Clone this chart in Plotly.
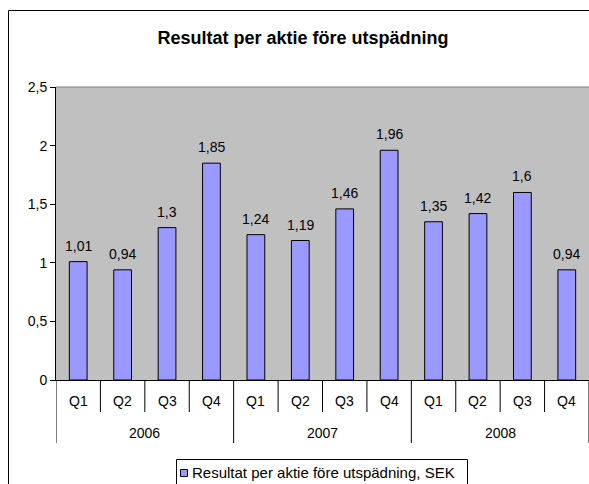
import plotly.graph_objects as go

# ---- data ----
years = ["2006", "2007", "2008"]
quarters = ["Q1", "Q2", "Q3", "Q4"]
values = [1.01, 0.94, 1.30, 1.85, 1.24, 1.19, 1.46, 1.96, 1.35, 1.42, 1.60, 0.94]
series_name = "Resultat per aktie före utspädning, SEK"
title_text = "Resultat per aktie före utspädning"

# ---- layout constants ----
W, H = 589, 484
ML, MR, MT, MB = 56, 0, 87, 104
PW, PH = W - ML - MR, H - MT - MB
FONT = "Liberation Sans, Arial, sans-serif"
FS = 14

def px_x(p):  # page pixel x -> paper x
    return (p - ML) / PW

def px_y(p):  # page pixel y -> paper y
    return 1 - (p - MT) / PH

n_q = len(quarters)
xs = list(range(len(years) * n_q))
q_labels = [quarters[i % n_q] for i in xs]
val_labels = [f"{v:g}".replace(".", ",") for v in values]

fig = go.Figure()
fig.add_trace(go.Bar(
    x=xs, y=values, width=0.4, name=series_name, showlegend=False,
    marker=dict(color="#9999FF", line=dict(color="#000000", width=1)),
))

annotations = []
for x, v, t in zip(xs, values, val_labels):
    annotations.append(dict(x=x, y=v, xref="x", yref="y", text=t, showarrow=False,
                            yanchor="middle", yshift=16, font=dict(size=FS, color="black")))
for x, t in zip(xs, q_labels):
    annotations.append(dict(x=x, y=0, xref="x", yref="paper", text=t, showarrow=False,
                            yanchor="middle", yshift=-21, font=dict(size=FS, color="black")))
for gi, yr in enumerate(years):
    cx = (xs[gi * n_q] + xs[gi * n_q + n_q - 1]) / 2
    annotations.append(dict(x=cx, y=0, xref="x", yref="paper", text=yr, showarrow=False,
                            yanchor="middle", yshift=-53, font=dict(size=FS, color="black")))

# legend text (manual, Excel style)
annotations.append(dict(x=px_x(190), y=px_y(472), xref="paper", yref="paper",
                        text=series_name, showarrow=False, xanchor="left", yanchor="middle",
                        font=dict(size=15, color="black")))

shapes = []
q_len = 32 / PH
y_len = 63 / PH
for i in range(len(xs) + 1):
    bx = i - 0.5
    long = (i % n_q == 0)
    shapes.append(dict(type="line", xref="x", yref="paper", x0=bx, x1=bx,
                       y0=0, y1=-(y_len if long else q_len),
                       line=dict(color="black", width=1)))
# plot-area top border
shapes.append(dict(type="line", xref="paper", yref="paper", x0=0, x1=1, y0=1, y1=1,
                   line=dict(color="#808080", width=1)))
# chart-area border
shapes.append(dict(type="rect", xref="paper", yref="paper",
                   x0=px_x(8.5), x1=1.5, y0=-1.0, y1=px_y(10.5),
                   line=dict(color="black", width=1), fillcolor="rgba(0,0,0,0)"))
# legend box
shapes.append(dict(type="rect", xref="paper", yref="paper",
                   x0=px_x(176.5), x1=px_x(467.5), y0=px_y(500), y1=px_y(459.5),
                   line=dict(color="black", width=1), fillcolor="white", layer="below"))
# legend key
shapes.append(dict(type="rect", xref="paper", yref="paper",
                   x0=px_x(180.5), x1=px_x(187.5), y0=px_y(476.5), y1=px_y(469.5),
                   line=dict(color="black", width=1), fillcolor="#9999FF"))

fig.update_layout(
    width=W, height=H,
    margin=dict(l=ML, r=MR, t=MT, b=MB),
    paper_bgcolor="white", plot_bgcolor="#C0C0C0",
    separators=",.",
    font=dict(family=FONT, size=FS, color="black"),
    showlegend=False,
    title=dict(text="<b>" + title_text + "</b>", x=303 / W, xref="container",
               xanchor="center", y=1 - 38 / H, yref="container", yanchor="middle",
               font=dict(size=18, family=FONT, color="black")),
    xaxis=dict(range=[-0.5, len(xs) - 0.5], showticklabels=False, showgrid=False,
               zeroline=False, showline=True, linecolor="black", linewidth=1, ticks=""),
    yaxis=dict(range=[0, 2.5], dtick=0.5, tick0=0, ticks="outside", ticklen=5,
               tickcolor="black", showline=True, linecolor="black", linewidth=1,
               showgrid=False, zeroline=False, tickfont=dict(size=FS, color="black")),
    annotations=annotations,
    shapes=shapes,
    bargap=0.6,
)

fig.write_html(
    "out.html",
    config={"displayModeBar": False},
    post_script="document.body.style.margin='0';document.body.style.overflow='hidden';",
)
